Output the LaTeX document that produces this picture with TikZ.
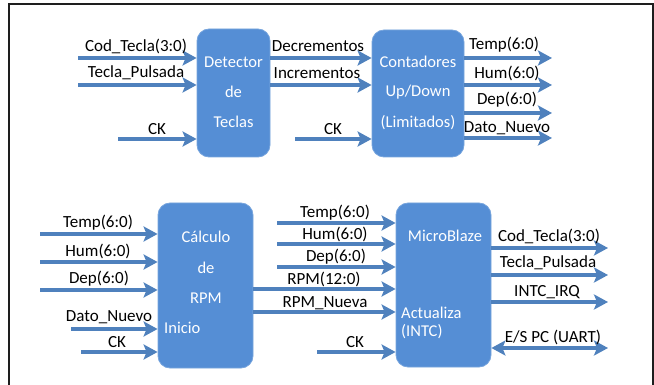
\documentclass[tikz,border=0pt]{standalone}
\usepackage{fontspec}
\setmainfont{Carlito}
\usetikzlibrary{arrows.meta}
\definecolor{sigblue}{RGB}{79,129,189}
\definecolor{boxblue}{RGB}{85,142,213}
\definecolor{framegray}{RGB}{30,30,30}
\begin{document}
\begin{tikzpicture}[x=1pt,y=-1pt,
  block/.style={fill=boxblue,draw=boxblue!80!white,line width=0.8pt,rounded corners=12pt,minimum width=#1,inner sep=0pt},
  sig/.style={draw=sigblue,line width=4pt,-{Stealth[length=14pt,width=15pt,inset=3pt]}},
  bisig/.style={draw=sigblue,line width=4pt,{Stealth[length=14pt,width=15pt,inset=3pt]}-{Stealth[length=14pt,width=15pt,inset=3pt]}},
  lbl/.style={font=\fontsize{17}{20}\selectfont,text=black,inner sep=0pt},
  intxt/.style={font=\fontsize{16.5}{20}\selectfont,text=white,inner sep=0pt},
]
\useasboundingbox (0,0) rectangle (654,385);
\clip (0,0) rectangle (654,385);
% outer frame, open at the bottom
\draw[framegray,line width=2pt] (9,400) -- (9,4) -- (653,4) -- (653,400);

% ---------- blocks ----------
\node[block=73pt,minimum height=128pt] (det) at (233.5,93) {};
\node[block=92pt,minimum height=127pt] (cnt) at (418,93.5) {};
\node[block=95pt,minimum height=165pt] (rpm) at (205.5,285.5) {};
\node[block=95pt,minimum height=164pt] (mb) at (443.5,285) {};

% block captions
\node[intxt] (detA) at (233.5,62) {Detector};
\node[intxt] (detB) at (233.5,92) {de};
\node[intxt] (detC) at (233.5,122) {Teclas};
\node[intxt] (cntA) at (418,62) {Contadores};
\node[intxt] (cntB) at (418,92) {Up/Down};
\node[intxt] (cntC) at (418,123) {(Limitados)};
\node[intxt] (rpmA) at (206,237) {Cálculo};
\node[intxt] (rpmB) at (206,268) {de};
\node[intxt] (rpmC) at (206,298) {RPM};
\node[intxt,anchor=west] (rpmD) at (164,328) {Inicio};
\node[intxt] (mbA) at (445,236) {MicroBlaze};
\node[intxt,anchor=west] (mbB) at (401,313) {Actualiza};
\node[intxt,anchor=west] (mbC) at (401,332) {(INTC)};

% ---------- detector inputs ----------
\coordinate (dIn1) at (78,58);
\coordinate (dIn2) at (78,85);
\coordinate (dIn3) at (118,139);
\draw[sig] (dIn1) -- (det.west |- dIn1);
\draw[sig] (dIn2) -- (det.west |- dIn2);
\draw[sig] (dIn3) -- (det.west |- dIn3);
\node[lbl] (lCod1) at (136,46) {Cod\_Tecla(3:0)};
\node[lbl] (lTec1) at (136,73) {Tecla\_Pulsada};
\node[lbl] (lCk1) at (157,129) {CK};

% ---------- detector to counters ----------
\draw[sig] (det.east |- dIn1) -- (cnt.west |- dIn1);
\draw[sig] (det.east |- dIn2) -- (cnt.west |- dIn2);
\node[lbl] (lDec) at (318,46) {Decrementos};
\node[lbl] (lInc) at (317,73) {Incrementos};
\coordinate (cIn3) at (295,139);
\draw[sig] (cIn3) -- (cnt.west |- cIn3);
\node[lbl] (lCk2) at (333,129) {CK};

% ---------- counter outputs ----------
\coordinate (cOut1) at (552,58);
\coordinate (cOut2) at (552,85);
\coordinate (cOut3) at (552,113);
\coordinate (cOut4) at (552,138);
\draw[sig] (cnt.east |- cOut1) -- (cOut1);
\draw[sig] (cnt.east |- cOut2) -- (cOut2);
\draw[sig] (cnt.east |- cOut3) -- (cOut3);
\draw[sig] (cnt.east |- cOut4) -- (cOut4);
\node[lbl] (lTmp1) at (504,45) {Temp(6:0)};
\node[lbl] (lHum1) at (507,73) {Hum(6:0)};
\node[lbl] (lDep1) at (507,100) {Dep(6:0)};
\node[lbl] (lDat1) at (507,128) {Dato\_Nuevo};

% ---------- RPM block inputs ----------
\coordinate (rIn1) at (40,234);
\coordinate (rIn2) at (40,262);
\coordinate (rIn3) at (40,290);
\coordinate (rIn4) at (71,329);
\coordinate (rIn5) at (81,352);
\draw[sig] (rIn1) -- (rpm.west |- rIn1);
\draw[sig] (rIn2) -- (rpm.west |- rIn2);
\draw[sig] (rIn3) -- (rpm.west |- rIn3);
\draw[sig] (rIn4) -- (rpm.west |- rIn4);
\draw[sig] (rIn5) -- (rpm.west |- rIn5);
\node[lbl] (lTmp2) at (98,223) {Temp(6:0)};
\node[lbl] (lHum2) at (98,251) {Hum(6:0)};
\node[lbl] (lDep2) at (99,279) {Dep(6:0)};
\node[lbl] (lDat2) at (109,317) {Dato\_Nuevo};
\node[lbl] (lCk3) at (117,342) {CK};

% ---------- MicroBlaze inputs ----------
\coordinate (mIn1) at (277,223);
\coordinate (mIn2) at (277,244);
\coordinate (mIn3) at (277,267);
\coordinate (mIn4) at (277,289);
\coordinate (mIn5) at (277,312);
\coordinate (mIn6) at (317,352);
\draw[sig] (mIn1) -- (mb.west |- mIn1);
\draw[sig] (mIn2) -- (mb.west |- mIn2);
\draw[sig] (mIn3) -- (mb.west |- mIn3);
\draw[sig] (rpm.east |- mIn4) -- (mb.west |- mIn4);
\draw[sig] (rpm.east |- mIn5) -- (mb.west |- mIn5);
\draw[sig] (mIn6) -- (mb.west |- mIn6);
\node[lbl] (lTmp3) at (335,213) {Temp(6:0)};
\node[lbl] (lHum3) at (335,234) {Hum(6:0)};
\node[lbl] (lDep3) at (336,257) {Dep(6:0)};
\node[lbl] (lRpm) at (324,279) {RPM(12:0)};
\node[lbl] (lRpn) at (325,303) {RPM\_Nueva};
\node[lbl] (lCk4) at (355,342) {CK};

% ---------- MicroBlaze outputs ----------
\coordinate (mOut1) at (608,248);
\coordinate (mOut2) at (608,275);
\coordinate (mOut3) at (608,302);
\coordinate (mOut4) at (608,348);
\draw[sig] (mb.east |- mOut1) -- (mOut1);
\draw[sig] (mb.east |- mOut2) -- (mOut2);
\draw[sig] (mb.east |- mOut3) -- (mOut3);
\draw[bisig] (mb.east |- mOut4) -- (mOut4);
\node[lbl] (lCod2) at (549,236) {Cod\_Tecla(3:0)};
\node[lbl] (lTec2) at (548,263) {Tecla\_Pulsada};
\node[lbl] (lIrq) at (547,292) {INTC\_IRQ};
\node[lbl] (lUart) at (553,337) {E/S PC (UART)};
\end{tikzpicture}
\end{document}
